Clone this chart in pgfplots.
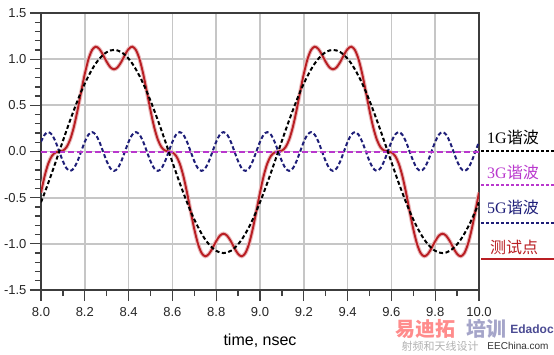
\documentclass[border=0pt]{standalone}
\usepackage{pgfplots}
\pgfplotsset{compat=1.18}
\usepackage{pgfplotstable}
\usepackage{fontspec}
\setmainfont{Liberation Sans}
\newfontfamily\cjk{Noto Sans CJK SC}
\newfontfamily\ser{Liberation Serif}
\definecolor{gridc}{RGB}{198,198,198}
\definecolor{framec}{RGB}{60,60,60}
\definecolor{c3}{RGB}{185,55,205}
\definecolor{c5}{RGB}{30,30,120}
\definecolor{cr}{RGB}{185,30,35}

% x : time (ns); a : 1G harmonic; b : 5G harmonic; r : test point
\pgfplotstableread{
x a b r
8.0000 -0.550 0.105 -0.445
8.0167 -0.447 0.182 -0.265
8.0333 -0.340 0.210 -0.130
8.0500 -0.229 0.182 -0.047
8.0667 -0.115 0.105 -0.010
8.0833 0.000 0.000 0.000
8.1000 0.115 -0.105 0.010
8.1167 0.229 -0.182 0.047
8.1333 0.340 -0.210 0.130
8.1500 0.447 -0.182 0.265
8.1667 0.550 -0.105 0.445
8.1833 0.647 0.000 0.647
8.2000 0.736 0.105 0.841
8.2167 0.817 0.182 0.999
8.2333 0.890 0.210 1.100
8.2500 0.953 0.182 1.135
8.2667 1.005 0.105 1.110
8.2833 1.046 0.000 1.046
8.3000 1.076 -0.105 0.971
8.3167 1.094 -0.182 0.912
8.3333 1.100 -0.210 0.890
8.3500 1.094 -0.182 0.912
8.3667 1.076 -0.105 0.971
8.3833 1.046 0.000 1.046
8.4000 1.005 0.105 1.110
8.4167 0.953 0.182 1.135
8.4333 0.890 0.210 1.100
8.4500 0.817 0.182 0.999
8.4667 0.736 0.105 0.841
8.4833 0.647 0.000 0.647
8.5000 0.550 -0.105 0.445
8.5167 0.447 -0.182 0.265
8.5333 0.340 -0.210 0.130
8.5500 0.229 -0.182 0.047
8.5667 0.115 -0.105 0.010
8.5833 0.000 0.000 0.000
8.6000 -0.115 0.105 -0.010
8.6167 -0.229 0.182 -0.047
8.6333 -0.340 0.210 -0.130
8.6500 -0.447 0.182 -0.265
8.6667 -0.550 0.105 -0.445
8.6833 -0.647 0.000 -0.647
8.7000 -0.736 -0.105 -0.841
8.7167 -0.817 -0.182 -0.999
8.7333 -0.890 -0.210 -1.100
8.7500 -0.953 -0.182 -1.135
8.7667 -1.005 -0.105 -1.110
8.7833 -1.046 0.000 -1.046
8.8000 -1.076 0.105 -0.971
8.8167 -1.094 0.182 -0.912
8.8333 -1.100 0.210 -0.890
8.8500 -1.094 0.182 -0.912
8.8667 -1.076 0.105 -0.971
8.8833 -1.046 0.000 -1.046
8.9000 -1.005 -0.105 -1.110
8.9167 -0.953 -0.182 -1.135
8.9333 -0.890 -0.210 -1.100
8.9500 -0.817 -0.182 -0.999
8.9667 -0.736 -0.105 -0.841
8.9833 -0.647 0.000 -0.647
9.0000 -0.550 0.105 -0.445
9.0167 -0.447 0.182 -0.265
9.0333 -0.340 0.210 -0.130
9.0500 -0.229 0.182 -0.047
9.0667 -0.115 0.105 -0.010
9.0833 0.000 0.000 0.000
9.1000 0.115 -0.105 0.010
9.1167 0.229 -0.182 0.047
9.1333 0.340 -0.210 0.130
9.1500 0.447 -0.182 0.265
9.1667 0.550 -0.105 0.445
9.1833 0.647 0.000 0.647
9.2000 0.736 0.105 0.841
9.2167 0.817 0.182 0.999
9.2333 0.890 0.210 1.100
9.2500 0.953 0.182 1.135
9.2667 1.005 0.105 1.110
9.2833 1.046 0.000 1.046
9.3000 1.076 -0.105 0.971
9.3167 1.094 -0.182 0.912
9.3333 1.100 -0.210 0.890
9.3500 1.094 -0.182 0.912
9.3667 1.076 -0.105 0.971
9.3833 1.046 0.000 1.046
9.4000 1.005 0.105 1.110
9.4167 0.953 0.182 1.135
9.4333 0.890 0.210 1.100
9.4500 0.817 0.182 0.999
9.4667 0.736 0.105 0.841
9.4833 0.647 0.000 0.647
9.5000 0.550 -0.105 0.445
9.5167 0.447 -0.182 0.265
9.5333 0.340 -0.210 0.130
9.5500 0.229 -0.182 0.047
9.5667 0.115 -0.105 0.010
9.5833 0.000 0.000 0.000
9.6000 -0.115 0.105 -0.010
9.6167 -0.229 0.182 -0.047
9.6333 -0.340 0.210 -0.130
9.6500 -0.447 0.182 -0.265
9.6667 -0.550 0.105 -0.445
9.6833 -0.647 0.000 -0.647
9.7000 -0.736 -0.105 -0.841
9.7167 -0.817 -0.182 -0.999
9.7333 -0.890 -0.210 -1.100
9.7500 -0.953 -0.182 -1.135
9.7667 -1.005 -0.105 -1.110
9.7833 -1.046 0.000 -1.046
9.8000 -1.076 0.105 -0.971
9.8167 -1.094 0.182 -0.912
9.8333 -1.100 0.210 -0.890
9.8500 -1.094 0.182 -0.912
9.8667 -1.076 0.105 -0.971
9.8833 -1.046 0.000 -1.046
9.9000 -1.005 -0.105 -1.110
9.9167 -0.953 -0.182 -1.135
9.9333 -0.890 -0.210 -1.100
9.9500 -0.817 -0.182 -0.999
9.9667 -0.736 -0.105 -0.841
9.9833 -0.647 0.000 -0.647
10.0000 -0.550 0.105 -0.445
}\wave

\begin{document}
\begin{tikzpicture}[x=1bp,y=1bp]
\path[use as bounding box] (0,0) rectangle (554,354);
\begin{axis}[
  at={(41bp,64bp)}, anchor=south west,
  scale only axis, width=438bp, height=277bp,
  xmin=8, xmax=10, ymin=-1.5, ymax=1.5,
  xtick={8,8.2,8.4,8.6,8.8,9,9.2,9.4,9.6,9.8,10},
  xticklabels={8.0,8.2,8.4,8.6,8.8,9.0,9.2,9.4,9.6,9.8,10.0},
  minor xtick={8.1,8.3,8.5,8.7,8.9,9.1,9.3,9.5,9.7,9.9},
  ytick={-1.5,-1,-0.5,0,0.5,1,1.5},
  yticklabels={-1.5,-1.0,-0.5,0.0,0.5,1.0,1.5},
  minor y tick num=4,
  tick align=outside, tick pos=left,
  major tick length=11bp, minor tick length=6bp,
  every tick/.style={black!75, line width=1.3bp},
  axis line style={framec, line width=1.4bp},
  xmajorgrids, ymajorgrids,
  major grid style={gridc, line width=1.7bp},
  ticklabel style={font=\fontsize{13bp}{15bp}\selectfont, text=black!85},
  xticklabel style={yshift=-3bp},
  xlabel={time, nsec},
  xlabel style={font=\fontsize{16bp}{18bp}\selectfont, at={(axis description cs:0.5,-0.184)}, anchor=center},
  clip=true,
]
\addplot[cr!30, line width=4bp, smooth] table[x=x, y=r] {\wave};
\addplot[cr, line width=1.9bp, smooth] table[x=x, y=r] {\wave};
\addplot[c5, line width=2bp, dash pattern=on 4bp off 2.5bp, smooth] table[x=x, y=b] {\wave};
\addplot[c3, line width=2bp, dash pattern=on 6bp off 3bp] coordinates {(8,0) (10,0)};
\addplot[black, line width=2bp, dash pattern=on 4bp off 2.5bp, smooth] table[x=x, y=a] {\wave};
\end{axis}
% legend
\node[anchor=center, font=\fontsize{16bp}{18bp}\selectfont] at (513,217) {{\ser 1G}{\cjk 谐波}};
\draw[black, line width=1.8bp, dash pattern=on 3bp off 2bp] (481,203) -- (554,203);
\node[anchor=center, font=\fontsize{16bp}{18bp}\selectfont, text=c3] at (513,182) {{\ser 3G}{\cjk 谐波}};
\draw[c3, line width=1.5bp, dash pattern=on 3bp off 2bp] (481,169) -- (554,169);
\node[anchor=center, font=\fontsize{16bp}{18bp}\selectfont, text=c5] at (513,147) {{\ser 5G}{\cjk 谐波}};
\draw[c5, line width=1.8bp, dash pattern=on 3bp off 2bp] (481,131) -- (554,131);
\node[anchor=center, font=\fontsize{16bp}{18bp}\selectfont, text=cr] at (514,107) {{\cjk 测试点}};
\draw[cr, line width=1.8bp] (481,95) -- (554,95);
% watermark
\node[anchor=center, inner sep=0pt, font=\cjk\bfseries\fontsize{20bp}{22bp}\selectfont, text=red!45] at (425,25) {易迪拓};
\node[anchor=center, inner sep=0pt, font=\cjk\bfseries\fontsize{20bp}{22bp}\selectfont, text=c5!40] at (486,25) {培训};
\node[anchor=center, inner sep=0pt, font=\bfseries\fontsize{12bp}{14bp}\selectfont, text=c5!80] at (532,25) {Edadoc};
\node[anchor=center, inner sep=0pt, font=\cjk\fontsize{11bp}{13bp}\selectfont, text=gray!60] at (440,8) {射频和天线设计};
\node[anchor=center, inner sep=0pt, font=\fontsize{10bp}{12bp}\selectfont, text=black!80] at (518,8) {EEChina.com};
\end{tikzpicture}
\end{document}
